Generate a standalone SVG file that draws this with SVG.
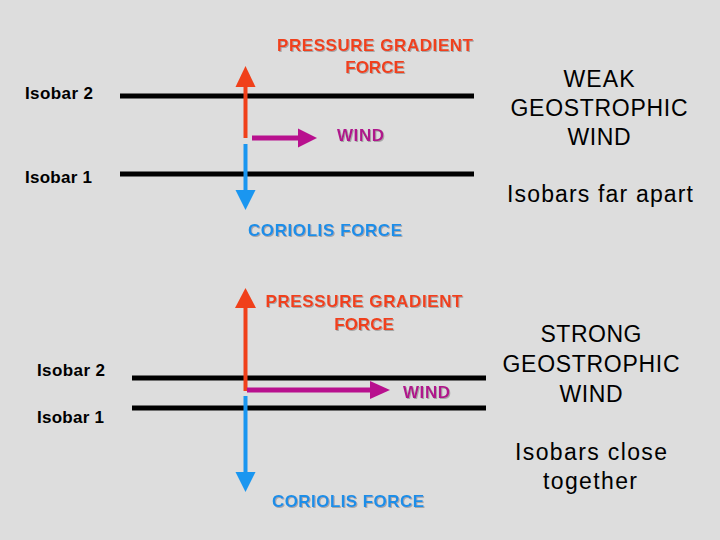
<svg xmlns="http://www.w3.org/2000/svg" width="720" height="540" viewBox="0 0 720 540">
<style>
.iso{stroke:#000;stroke-width:5;fill:none}
.lbl{font-family:"Liberation Sans",Arial,sans-serif;font-weight:bold;font-size:17px;fill:#000}
.big{font-family:"Liberation Sans",Arial,sans-serif;font-size:23px;fill:#000;text-anchor:middle}
.pgf{font-family:"Liberation Sans",Arial,sans-serif;font-weight:bold;font-size:17px;fill:#f0401a;text-anchor:middle;filter:url(#sh)}
.cor{font-family:"Liberation Sans",Arial,sans-serif;font-weight:bold;font-size:17px;fill:#1a8ee8;filter:url(#sh)}
.wnd{font-family:"Liberation Sans",Arial,sans-serif;font-weight:bold;font-size:17px;fill:#b0148c;filter:url(#sh)}
.red{stroke:#f0401a;stroke-width:4;fill:none}
.blue{stroke:#1a96f0;stroke-width:4;fill:none}
.mag{stroke:#b8108e;stroke-width:5;fill:none}
</style>
<defs>
<filter id="sh" x="-5%" y="-20%" width="110%" height="140%">
<feDropShadow dx="1" dy="1" stdDeviation="0.6" flood-color="#999" flood-opacity="0.8"/>
</filter>
</defs>
<rect width="720" height="540" fill="#dddddd"/>

<g id="top-panel">
<g id="isobar2-top"><line class="iso" x1="120" y1="96" x2="474" y2="96"/><text class="lbl" x="25" y="99" textLength="68">Isobar 2</text></g>
<g id="isobar1-top"><line class="iso" x1="120" y1="174" x2="474" y2="174"/><text class="lbl" x="25" y="183" textLength="67">Isobar 1</text></g>
<g id="pgf-top-label"><text class="pgf" x="375" y="51" textLength="196">PRESSURE GRADIENT</text><text class="pgf" x="375" y="73">FORCE</text></g>
<g id="wind-top-label"><text class="wnd" x="337" y="141" textLength="47">WIND</text></g>
<g id="coriolis-top-label"><text class="cor" x="248" y="236" textLength="154">CORIOLIS FORCE</text></g>
<g id="weak-text">
<text class="big" x="599" y="87" textLength="71">WEAK</text>
<text class="big" x="599" y="116" textLength="177">GEOSTROPHIC</text>
<text class="big" x="599" y="145" textLength="63">WIND</text>
<text class="big" x="600" y="202" textLength="186">Isobars far apart</text>
</g>
</g>

<g id="bottom-panel">
<g id="isobar2-bot"><line class="iso" x1="132" y1="378" x2="486" y2="378"/><text class="lbl" x="37" y="376" textLength="68">Isobar 2</text></g>
<g id="isobar1-bot"><line class="iso" x1="132" y1="408" x2="486" y2="408"/><text class="lbl" x="37" y="423" textLength="67">Isobar 1</text></g>
<g id="pgf-bot-label"><text class="pgf" x="364" y="307" textLength="197">PRESSURE GRADIENT</text><text class="pgf" x="364" y="330">FORCE</text></g>
<g id="wind-bot-label"><text class="wnd" x="403" y="398" textLength="47">WIND</text></g>
<g id="coriolis-bot-label"><text class="cor" x="272" y="507" textLength="152">CORIOLIS FORCE</text></g>
<g id="strong-text">
<text class="big" x="591" y="342" textLength="101">STRONG</text>
<text class="big" x="591" y="372" textLength="177">GEOSTROPHIC</text>
<text class="big" x="591" y="402" textLength="63">WIND</text>
<text class="big" x="591" y="460" textLength="152">Isobars close</text>
<text class="big" x="590" y="489" textLength="94">together</text>
</g>
</g>

<g id="connectors">
<line class="red" x1="245.5" y1="138" x2="245.5" y2="85"/>
<polygon points="235.5,87 255.5,87 245.5,66" fill="#f0401a"/>
<line class="blue" x1="245.5" y1="144" x2="245.5" y2="192"/>
<polygon points="235.5,190 255.5,190 245.5,210" fill="#1a96f0"/>
<line class="mag" x1="252" y1="138" x2="300" y2="138"/>
<polygon points="298,128.5 298,147.5 317,138" fill="#b8108e"/>

<line class="red" x1="245.5" y1="391" x2="245.5" y2="306"/>
<polygon points="235,308 256,308 245.5,288" fill="#f0401a"/>
<line class="blue" x1="245.5" y1="396" x2="245.5" y2="474"/>
<polygon points="235.5,472 255.5,472 245.5,492" fill="#1a96f0"/>
<line class="mag" x1="247" y1="390" x2="372" y2="390"/>
<polygon points="370,381 370,399 390,390" fill="#b8108e"/>
</g>
</svg>
